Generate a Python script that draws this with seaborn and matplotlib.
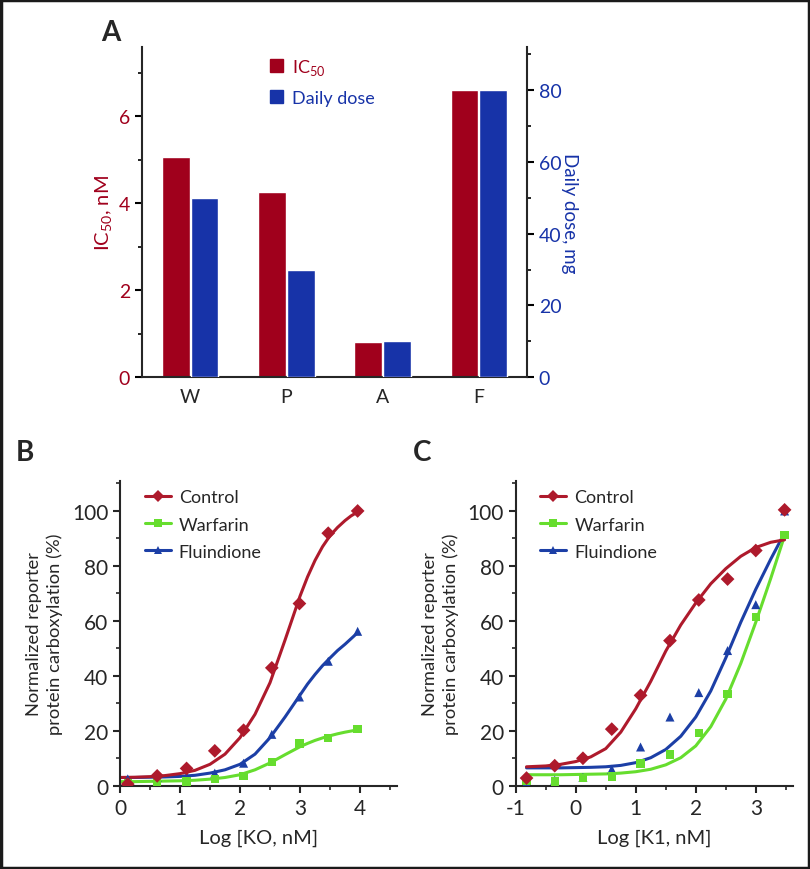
import numpy as np
import pandas as pd
import matplotlib
matplotlib.use('Agg')
import matplotlib.pyplot as plt
import seaborn as sns
from matplotlib.lines import Line2D
from matplotlib.patches import Patch, Rectangle
from matplotlib.ticker import MultipleLocator

# ---------------- data ----------------
drugs = ['W', 'P', 'A', 'F']
ic50_nM = [5.05, 4.25, 0.82, 6.6]
daily_dose_mg = [50, 30, 10, 80]

# Panel B: measured points
b_x = [0.13, 0.62, 1.11, 1.58, 2.06, 2.53, 2.99, 3.47, 3.96]
b_control = [0.6, 3.6, 6.3, 12.7, 20.2, 42.9, 66.3, 91.9, 100.0]
b_warfarin = [1.0, 1.5, 1.5, 2.4, 3.6, 8.7, 15.4, 17.3, 20.6]
b_fluindione = [2.5, 3.0, 3.4, 4.6, 8.2, 18.7, 32.3, 45.3, 56.2]
# Panel B: fitted curves
b_fit_x = [0, 0.25, 0.5, 0.75, 1.0, 1.25, 1.5, 1.75, 2.0, 2.25, 2.5, 2.75, 3.0,
           3.125, 3.25, 3.375, 3.5, 3.625, 3.75, 3.85, 3.95]
b_fit_control = [3.0, 3.1, 3.3, 3.7, 4.4, 5.6, 7.8, 11.5, 17.5, 26.0, 37.5, 53.0, 69.0,
                 76.0, 82.0, 87.0, 91.0, 94.0, 96.5, 98.2, 99.5]
b_fit_warfarin = [1.5, 1.5, 1.6, 1.7, 1.8, 2.0, 2.4, 3.0, 4.0, 5.8, 8.3, 11.3, 14.2,
                  15.4, 16.5, 17.4, 18.2, 18.9, 19.5, 19.9, 20.3]
b_fit_fluindione = [3.0, 3.0, 3.1, 3.2, 3.4, 3.8, 4.6, 5.8, 7.8, 11.5, 17.5, 25.0, 33.0,
                    37.0, 40.5, 43.7, 46.5, 49.2, 51.5, 53.5, 55.5]

# Panel C: measured points
c_x = [-0.82, -0.35, 0.12, 0.60, 1.08, 1.57, 2.05, 2.53, 3.00, 3.48]
c_control = [2.8, 7.3, 10.0, 20.6, 32.9, 52.8, 67.6, 75.2, 85.6, 100.4]
c_warfarin = [1.7, 1.5, 2.7, 3.4, 8.1, 11.4, 19.3, 33.3, 61.3, 91.2]
c_fluindione = [1.0, 2.0, 3.0, 6.0, 14.1, 25.0, 33.9, 49.2, 65.9, 100.0]
# Panel C: fitted curves
c_fit_x = [-0.82, -0.5, -0.25, 0, 0.25, 0.5, 0.75, 1.0, 1.25, 1.5, 1.75, 2.0, 2.25,
           2.5, 2.75, 3.0, 3.25, 3.48]
c_fit_control = [6.9, 7.2, 7.8, 8.8, 10.5, 13.5, 19.5, 28.0, 38.0, 49.0, 58.5, 66.5,
                 73.5, 79.0, 83.5, 86.7, 88.6, 89.5]
c_fit_warfarin = [4.0, 4.0, 4.0, 4.1, 4.2, 4.3, 4.6, 5.1, 6.0, 7.6, 10.2, 14.5, 21.5,
                  31.5, 44.5, 59.5, 75.5, 91.0]
c_fit_fluindione = [6.5, 6.5, 6.5, 6.6, 6.7, 6.9, 7.4, 8.4, 10.2, 13.2, 18.0, 25.0, 34.5,
                    46.5, 59.5, 71.5, 82.5, 92.0]

series_names = ['Control', 'Warfarin', 'Fluindione']

# ---------------- style ----------------
sns.set_style('ticks')
plt.rcParams['font.family'] = ['Lato', 'DejaVu Sans']
plt.rcParams['axes.unicode_minus'] = False
plt.rcParams['axes.linewidth'] = 1.5

RED_BAR = '#A0001C'
BLUE_BAR = '#1733A8'
C_RED = '#AE1A2C'
C_GREEN = '#66DD2E'
C_BLUE = '#1C3FA6'
colors = {'Control': C_RED, 'Warfarin': C_GREEN, 'Fluindione': C_BLUE}
markers = {'Control': 'D', 'Warfarin': 's', 'Fluindione': '^'}
msizes = {'Control': 7, 'Warfarin': 6, 'Fluindione': 6.5}

fig = plt.figure(figsize=(8.1, 8.7), dpi=100)

# ---------------- Panel A ----------------
axA = fig.add_axes([0.1753, 0.5652, 0.4753, 0.3797])
ser_ic = 'IC50'
ser_dose = 'Daily dose'
dfA_left = pd.DataFrame({
    'drug': drugs * 2,
    'series': [ser_ic] * 4 + [ser_dose] * 4,
    'value': ic50_nM + [np.nan] * 4,
})
dfA_right = pd.DataFrame({
    'drug': drugs * 2,
    'series': [ser_ic] * 4 + [ser_dose] * 4,
    'value': [np.nan] * 4 + daily_dose_mg,
})
pal = {ser_ic: RED_BAR, ser_dose: BLUE_BAR}
sns.barplot(data=dfA_left, x='drug', y='value', hue='series', order=drugs,
            hue_order=[ser_ic, ser_dose], palette=pal, width=0.6, gap=0.04,
            errorbar=None, legend=False, ax=axA, saturation=1)
axA2 = axA.twinx()
sns.barplot(data=dfA_right, x='drug', y='value', hue='series', order=drugs,
            hue_order=[ser_ic, ser_dose], palette=pal, width=0.6, gap=0.04,
            errorbar=None, legend=False, ax=axA2, saturation=1)
axA.set_xlim(-0.5, 3.5)
axA2.set_xlim(-0.5, 3.5)
axA.set_ylim(0, 7.59)
axA2.set_ylim(0, 92)
for a in (axA, axA2):
    a.spines['top'].set_visible(False)
    a.set_xlabel('')
axA.spines['right'].set_visible(False)
axA2.spines['left'].set_visible(False)
axA2.spines['bottom'].set_visible(False)
axA.yaxis.set_major_locator(MultipleLocator(2))
axA.yaxis.set_minor_locator(MultipleLocator(1))
axA2.yaxis.set_major_locator(MultipleLocator(20))
axA2.yaxis.set_minor_locator(MultipleLocator(10))
axA.tick_params(axis='y', which='major', direction='out', length=5, width=1.5,
                labelsize=14, labelcolor=RED_BAR, color='black')
axA.tick_params(axis='y', which='minor', direction='out', length=3, width=1.2, color='black')
axA2.tick_params(axis='y', which='major', direction='out', length=5, width=1.5,
                 labelsize=14, labelcolor=BLUE_BAR, color='black')
axA2.tick_params(axis='y', which='minor', direction='out', length=3, width=1.2, color='black')
axA.tick_params(axis='x', length=0, labelsize=14, pad=8)
axA.set_ylabel('IC$_{\\mathregular{50}}$, nM', color=RED_BAR, fontsize=14.5, labelpad=3)
axA2.set_ylabel('Daily dose, mg', color=BLUE_BAR, fontsize=13.5, rotation=270, labelpad=12)
axA2.legend(handles=[Patch(color=RED_BAR), Patch(color=BLUE_BAR)],
            labels=['IC$_{\\mathregular{50}}$', 'Daily dose'],
            loc='upper left', bbox_to_anchor=(0.29, 1.02), frameon=False,
            fontsize=13, handlelength=0.75, handleheight=0.75,
            handletextpad=0.45, labelspacing=0.75,
            labelcolor=[RED_BAR, BLUE_BAR])
fig.text(101 / 810, 1 - 33 / 870, 'A', fontsize=20, fontweight='bold', va='center', ha='left')

LABEL_FAMILY = ['Lato', 'DejaVu Sans']


# ---------------- Panels B and C ----------------
def curve_panel(ax, px, pts, fx, fits, xlim, xlabel):
    for name in ['Fluindione', 'Warfarin', 'Control']:
        sns.lineplot(x=fx, y=fits[name], color=colors[name], linewidth=2.2,
                     ax=ax, legend=False, sort=True, zorder=2)
    for name in ['Fluindione', 'Warfarin', 'Control']:
        sns.scatterplot(x=px, y=pts[name], color=colors[name], marker=markers[name],
                        s=msizes[name] ** 2, edgecolor='none', ax=ax, legend=False,
                        zorder=3)
    ax.set_xlim(*xlim)
    ax.set_ylim(0, 111)
    ax.spines['top'].set_visible(False)
    ax.spines['right'].set_visible(False)
    ax.xaxis.set_major_locator(MultipleLocator(1))
    ax.xaxis.set_minor_locator(MultipleLocator(0.5))
    ax.yaxis.set_major_locator(MultipleLocator(20))
    ax.yaxis.set_minor_locator(MultipleLocator(10))
    ax.tick_params(which='major', direction='out', length=5, width=1.5, labelsize=15)
    ax.tick_params(which='minor', direction='out', length=3, width=1.2)
    ax.set_xlabel(xlabel, fontsize=14.5, labelpad=8, family=LABEL_FAMILY)
    ax.set_ylabel('Normalized reporter\nprotein carboxylation (%)', fontsize=13.2,
                  labelpad=6, linespacing=1.35, family=LABEL_FAMILY)
    handles = [Line2D([], [], color=colors[n], marker=markers[n], lw=2.2,
                      markersize=msizes[n] - 0.5, markeredgewidth=0) for n in series_names]
    ax.legend(handles=handles, labels=series_names, loc='upper left',
              bbox_to_anchor=(0.03, 1.025), frameon=False, fontsize=13,
              handlelength=1.45, handletextpad=0.45, labelspacing=0.62)


axB = fig.add_axes([0.1481, 0.0957, 0.3416, 0.3506])
curve_panel(axB, b_x,
            {'Control': b_control, 'Warfarin': b_warfarin, 'Fluindione': b_fluindione},
            b_fit_x,
            {'Control': b_fit_control, 'Warfarin': b_fit_warfarin, 'Fluindione': b_fit_fluindione},
            (0, 4.61), 'Log [KO, nM]')

axC = fig.add_axes([0.6367, 0.0957, 0.3423, 0.3506])
curve_panel(axC, c_x,
            {'Control': c_control, 'Warfarin': c_warfarin, 'Fluindione': c_fluindione},
            c_fit_x,
            {'Control': c_fit_control, 'Warfarin': c_fit_warfarin, 'Fluindione': c_fit_fluindione},
            (-1, 3.62), 'Log [K1, nM]')

fig.text(16 / 810, 1 - 453 / 870, 'B', fontsize=20, fontweight='bold', va='center', ha='left')
fig.text(413 / 810, 1 - 453 / 870, 'C', fontsize=20, fontweight='bold', va='center', ha='left')

# outer frame
fig.patches.append(Rectangle((0.0015, 0.0015), 0.997, 0.997, transform=fig.transFigure,
                             fill=False, edgecolor='#1a1a1a', linewidth=2.5))

fig.savefig('out.png', dpi=100)
